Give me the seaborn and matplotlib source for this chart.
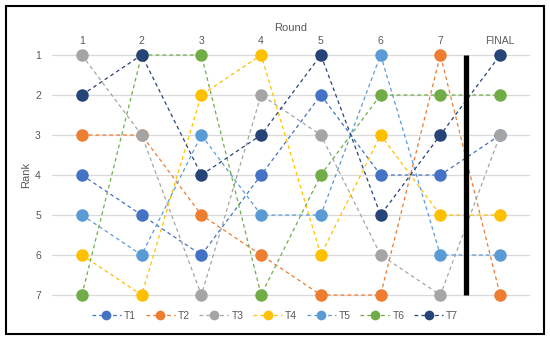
import matplotlib
matplotlib.use("Agg")
import matplotlib.pyplot as plt
from matplotlib.patches import Rectangle
from matplotlib.lines import Line2D
import seaborn as sns
import pandas as pd

rounds = ["1", "2", "3", "4", "5", "6", "7", "FINAL"]
teams = ["T1", "T2", "T3", "T4", "T5", "T6", "T7"]
T1 = [4, 5, 6, 4, 2, 4, 4, 3]
T2 = [3, 3, 5, 6, 7, 7, 1, 7]
T3 = [1, 3, 7, 2, 3, 6, 7, 3]
T4 = [6, 7, 2, 1, 6, 3, 5, 5]
T5 = [5, 6, 3, 5, 5, 1, 6, 6]
T6 = [7, 1, 1, 7, 4, 2, 2, 2]
T7 = [2, 1, 4, 3, 1, 5, 3, 1]
series = [T1, T2, T3, T4, T5, T6, T7]
colors = ["#4472C4", "#ED7D31", "#A5A5A5", "#FFC000", "#5B9BD5", "#70AD47", "#264478"]

rows = []
for t, vals in zip(teams, series):
    for i, v in enumerate(vals):
        rows.append({"team": t, "x": i, "rank": v})
df = pd.DataFrame(rows)

sns.set_style("white")
plt.rcParams['font.family'] = ['Calibri', 'Liberation Sans', 'DejaVu Sans']

fig = plt.figure(figsize=(5.5, 3.4), dpi=100)
ax = fig.add_axes([52/550, 37/340, 478/550, 256/340])

# outer border
fig.patches.append(Rectangle((6/550, 6/340), 538/550, 328/340, transform=fig.transFigure,
                             fill=False, edgecolor="black", linewidth=1.5, zorder=10))

for y in range(1, 8):
    ax.axhline(y, color="#D9D9D9", linewidth=0.9, zorder=0)

sns.lineplot(data=df, x="x", y="rank", hue="team", palette=colors, marker="o",
             markersize=9, markeredgewidth=0, linewidth=0.9, sort=False,
             estimator=None, ax=ax, legend=False, zorder=3)
for ln in ax.get_lines()[7:]:
    ln.set_dashes((3, 2.5))

# thick black divider between round 7 and FINAL
ax.plot([6.43, 6.43], [1, 7], color="black", linewidth=3.8, solid_capstyle="butt", zorder=5)

ax.set_xlim(-0.5, 7.5)
ax.set_ylim(7.2, 0.8)
ax.xaxis.tick_top()
ax.xaxis.set_label_position("top")
ax.set_xticks(range(len(rounds)))
ax.set_xticklabels(rounds)
for lbl in ax.get_xticklabels():
    if lbl.get_text() == "FINAL":
        lbl.set_fontsize(6.5)
ax.set_yticks(range(1, 8))
ax.tick_params(axis="x", length=0, pad=1, labelsize=7.5, colors="#595959")
ax.tick_params(axis="y", length=0, pad=8, labelsize=7.5, colors="#595959")
ax.set_xlabel("Round", fontsize=8, color="#595959", labelpad=3)
ax.set_ylabel("Rank", fontsize=8, color="#595959", labelpad=3)
for s in ax.spines.values():
    s.set_visible(False)

handles = [Line2D([0], [0], color=c, linestyle=(0, (3, 2.5)), linewidth=0.9, marker="o",
                  markersize=7, markeredgewidth=0) for c in colors]
fig.legend(handles, teams, loc="center", bbox_to_anchor=(275/550, 1 - 316/340), ncol=7,
           frameon=False, fontsize=7.5, handlelength=2.8, columnspacing=0.9,
           handletextpad=0.3, labelcolor="#595959")

fig.savefig("out.png", dpi=100)
